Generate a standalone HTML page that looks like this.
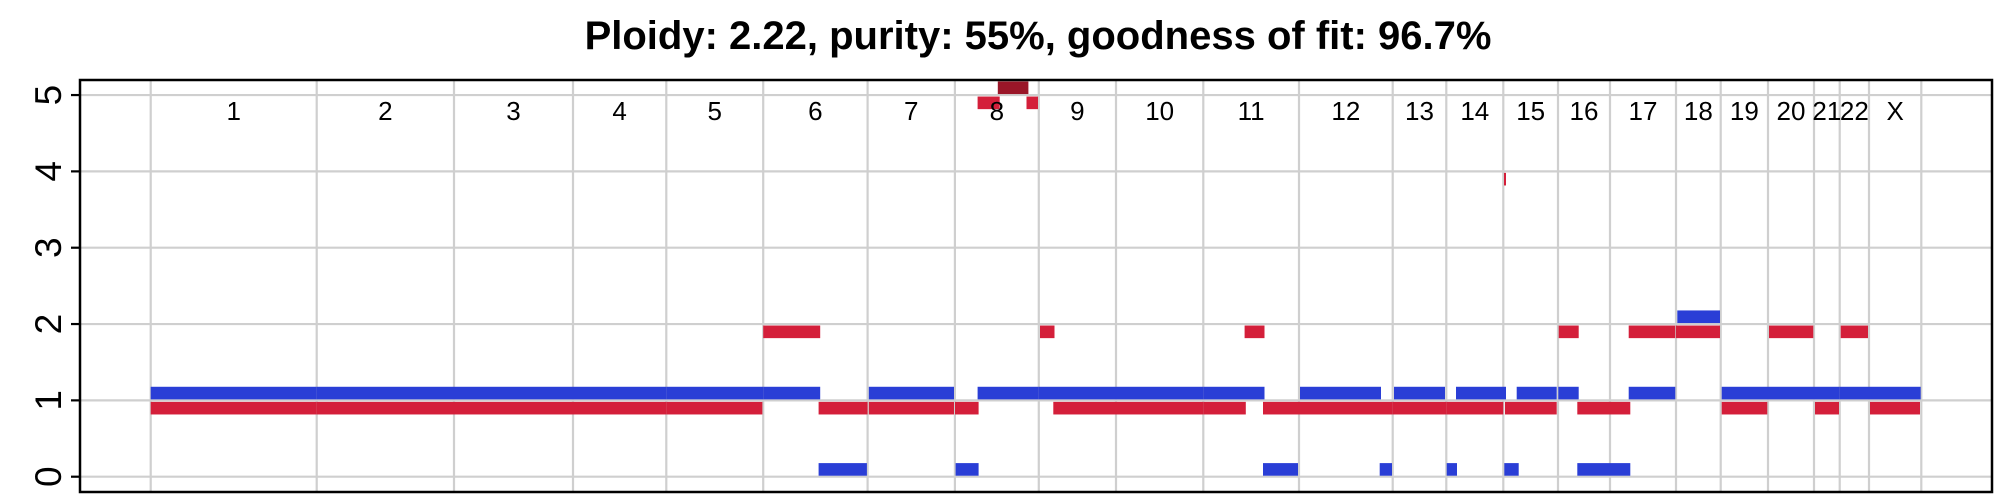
<!DOCTYPE html>
<html><head><meta charset="utf-8"><style>
html,body{margin:0;padding:0;background:#fff;}
svg{display:block;font-family:"Liberation Sans",Arial,sans-serif;}
</style></head><body>
<svg id="chart" width="2000" height="500" viewBox="0 0 2000 500">
<text x="1038" y="49" text-anchor="middle" font-size="40" font-weight="bold" fill="#000">Ploidy: 2.22, purity: 55%, goodness of fit: 96.7%</text>
<g id="grid"></g>
<g id="marks"></g>
<g id="labels"></g>
<g id="yaxis"></g>
<rect x="80" y="80" width="1912" height="412" fill="none" stroke="#000" stroke-width="2.5"/>
</svg>
<script>
const chromNames = ["1","2","3","4","5","6","7","8","9","10","11","12","13","14","15","16","17","18","19","20","21","22","X"];
const chromStarts = [0,166,303.3,422.3,515.6,612.5,716.9,804.2,888.1,965.3,1052.6,1148.3,1242,1295.6,1352.6,1407.3,1459.3,1525.3,1570,1617.3,1663.3,1689,1718.3];
const genomeEnd = 1770.6;
const yTicks = [0,1,2,3,4,5];
// [start, end, copy number]
const majorSegs = [
[0,166,1],[166,303.3,1],[303.3,422.3,1],[422.3,515.6,1],[515.6,612.5,1],[612.5,669.5,1],
[667.9,716.2,0],[718.1,803.3,1],[804.9,827.9,0],[826.9,888.1,1],[888.1,965.3,1],[965.3,1052.6,1],[1052.6,1113.8,1],
[1112.3,1147.3,0],[1149.3,1230.3,1],[1229,1241.3,0],[1243.3,1294.3,1],[1296,1306.3,0],[1305.3,1355.3,1],
[1353.6,1368,0],[1366,1406,1],[1407.6,1428,1],[1426.6,1459.3,0],[1459.3,1479.6,0],[1478,1524.6,1],
[1526.6,1569.3,2],[1571,1617.3,1],[1617.3,1663.3,1],[1663.3,1689,1],[1689,1718.3,1],[1718.3,1770,1]
];
const minorSegs = [
[0,166,1],[166,303.3,1],[303.3,422.3,1],[422.3,515.6,1],[515.6,611.7,1],
[612.5,669.5,2],[667.9,716.9,1],[718.1,803.3,1],[804.3,827.9,1],[826.9,849,5],[875.8,887.3,5],
[889.3,903.8,2],[902.6,965.3,1],[965.3,1052.6,1],[1052.6,1095.1,1],[1093.9,1113.8,2],
[1112.3,1148.3,1],[1148.3,1242,1],[1242,1295.6,1],[1295.6,1352.6,1],[1353.3,1355.3,4],
[1354.3,1406,1],[1408,1428,2],[1426.6,1459.3,1],[1459.3,1479.6,1],[1478,1524.6,2],[1525.3,1569.3,2],
[1571,1616.6,1],[1618.3,1662.6,2],[1664.3,1688.3,1],[1690,1717.3,2],[1719.3,1769.3,1]
];
const overflowSegs = [[847.1,877.7,5]];

const NS="http://www.w3.org/2000/svg";
const x0=150.7, y0=476.7, yUnit=76.33;
function xScale(v){return x0+v;}
function yScale(v){return y0-v*yUnit;}
function mk(tag,attrs,parent){const e=document.createElementNS(NS,tag);for(const k in attrs)e.setAttribute(k,attrs[k]);parent.appendChild(e);return e;}
const grid=document.getElementById('grid'),marks=document.getElementById('marks'),labels=document.getElementById('labels'),yaxis=document.getElementById('yaxis');
yTicks.forEach(t=>{
  const l=mk('line',{x1:80,x2:1992,y1:yScale(t),y2:yScale(t),stroke:'#cfcfcf','stroke-width':2.2},grid);
  
  
  const tk=mk('line',{x1:71,x2:80,y1:yScale(t),y2:yScale(t),stroke:'#000','stroke-width':2.2},yaxis);
  
  
  const tx=mk('text',{x:0,y:0,'font-size':37,'text-anchor':'middle',transform:`translate(61,${yScale(t)}) rotate(-90)`,fill:'#000'},yaxis);
  tx.textContent=t;
  
  
});
const bounds=chromStarts.concat([genomeEnd]);
bounds.forEach(b=>{
  const l=mk('line',{x1:xScale(b),x2:xScale(b),y1:80,y2:492,stroke:'#cfcfcf','stroke-width':2.2},grid);
  
  
});
chromNames.forEach((n,i)=>{
  const c=(xScale(bounds[i])+xScale(bounds[i+1]))/2;
  const t=mk('text',{x:c,y:120,'font-size':26,'text-anchor':'middle',fill:'#000'},labels);
  t.textContent=n;
  
  
});
const H=0.165;
majorSegs.forEach(s=>{
  const r=mk('rect',{x:xScale(s[0]),width:xScale(s[1])-xScale(s[0]),y:yScale(s[2]+H)-1,height:yScale(s[2])-yScale(s[2]+H),fill:'#2a3ed6'},marks);
  
  
});
minorSegs.forEach(s=>{
  const r=mk('rect',{x:xScale(s[0]),width:xScale(s[1])-xScale(s[0]),y:yScale(s[2])+1.5,height:yScale(s[2]-H)-yScale(s[2]),fill:'#d41f3a'},marks);
  
  
});
overflowSegs.forEach(s=>{
  const r=mk('rect',{x:xScale(s[0]),width:xScale(s[1])-xScale(s[0]),y:yScale(s[2]+H)-1,height:yScale(s[2])-yScale(s[2]+H),fill:'#9a1628'},marks);
  
  
});
</script>
</body></html>
